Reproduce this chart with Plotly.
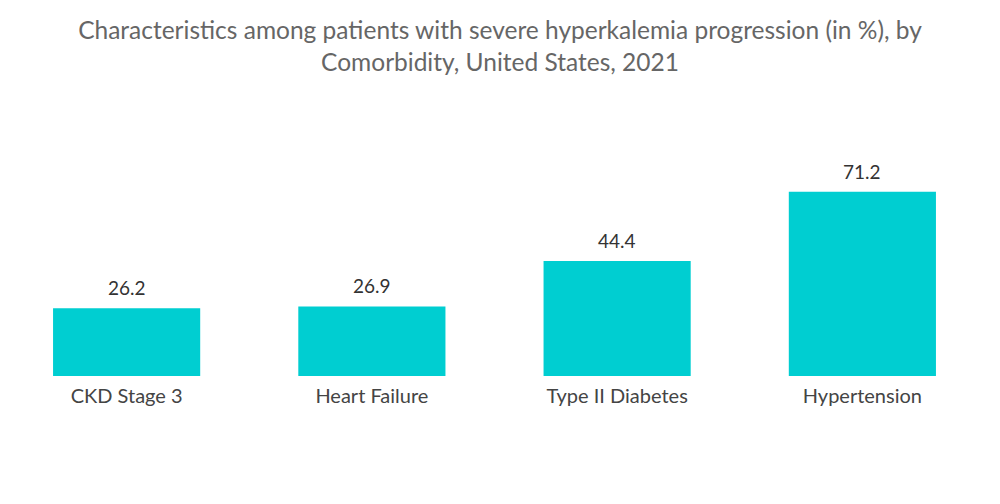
import plotly.graph_objects as go

categories = ["CKD Stage 3", "Heart Failure", "Type II Diabetes", "Hypertension"]
values = [26.2, 26.9, 44.4, 71.2]
value_labels = ["26.2", "26.9", "44.4", "71.2"]

fig = go.Figure(go.Bar(
    x=categories, y=values,
    marker=dict(color="#00CED1", line=dict(width=0)),
    width=0.6, hoverinfo="x+y",
))

for c, v, t in zip(categories, values, value_labels):
    fig.add_annotation(x=c, y=v, text=t, showarrow=False, yanchor="bottom",
                       yshift=7, font=dict(family="Lato", size=19, color="#333333"))

fig.update_layout(
    width=1000, height=504,
    paper_bgcolor="white", plot_bgcolor="white",
    margin=dict(l=4, r=15, t=169, b=128),
    title=dict(
        text="Characteristics among patients with severe hyperkalemia progression (in %), by<br>Comorbidity, United States, 2021",
        x=0.5, xanchor="center", y=0.923, yanchor="top",
        font=dict(family="Lato", size=24.5, color="#666666"),
    ),
    xaxis=dict(showgrid=False, showline=False, zeroline=False, ticks="",
               ticklabelstandoff=6,
               tickfont=dict(family="Lato", size=20, color="#444444")),
    yaxis=dict(visible=False, range=[0, 80]),
    showlegend=False, bargap=0.4,
)

fig.write_html("out.html", config={"displayModeBar": False},
               post_script="document.body.style.margin='0';")
